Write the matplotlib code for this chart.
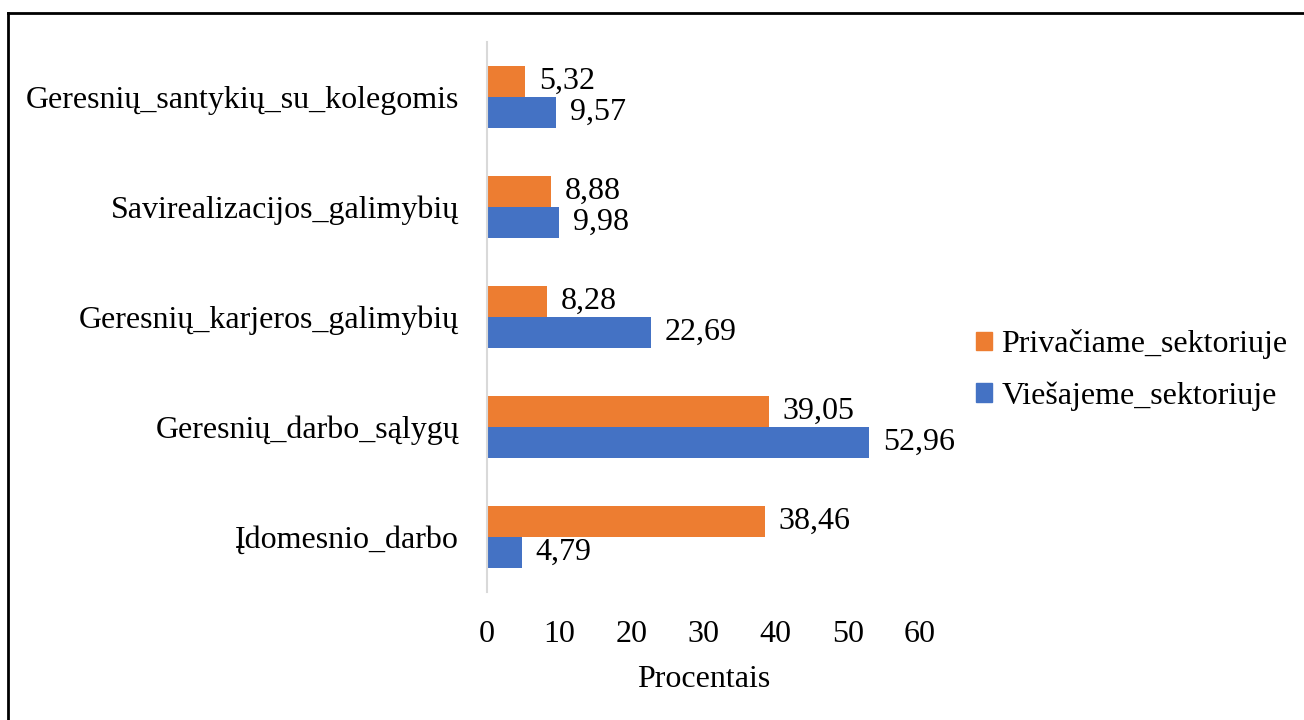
import matplotlib
matplotlib.use("Agg")
import matplotlib.pyplot as plt
import numpy as np
from matplotlib.lines import Line2D

plt.rcParams['font.family'] = ['Liberation Serif', 'DejaVu Serif']

categories = [
    "Įdomesnio_darbo",
    "Geresnių_darbo_sąlygų",
    "Geresnių_karjeros_galimybių",
    "Savirealizacijos_galimybių",
    "Geresnių_santykių_su_kolegomis",
]
private_sector = [38.46, 39.05, 8.28, 8.88, 5.32]
public_sector = [4.79, 52.96, 22.69, 9.98, 9.57]
series_names = ["Privačiame_sektoriuje", "Viešajeme_sektoriuje"]
x_ticks = [0, 10, 20, 30, 40, 50, 60]
x_label = "Procentais"

ORANGE = "#ED7D31"
BLUE = "#4472C4"
FS = 23

fig = plt.figure(figsize=(13.04, 7.2), dpi=100)
ax = fig.add_axes([487 / 1304, 1 - 592 / 720, (920 - 487) / 1304, (592 - 42) / 720])

y = np.arange(len(categories))
h = 0.28
b_priv = ax.barh(y + h / 2, private_sector, height=h, color=ORANGE, label=series_names[0])
b_pub = ax.barh(y - h / 2, public_sector, height=h, color=BLUE, label=series_names[1])

fmt = lambda vals: [f"{v:.2f}".replace(".", ",") for v in vals]
ax.bar_label(b_priv, labels=fmt(private_sector), padding=10, fontsize=FS)
ax.bar_label(b_pub, labels=fmt(public_sector), padding=10, fontsize=FS)

ax.set_xlim(0, 60)
ax.set_ylim(-0.5, len(categories) - 0.5)
ax.set_xticks(x_ticks)
ax.set_xticklabels([str(t) for t in x_ticks], fontsize=FS)
ax.set_yticks(y)
ax.set_yticklabels(categories, fontsize=FS)
ax.tick_params(axis="both", length=0)
ax.tick_params(axis="x", pad=20)
ax.tick_params(axis="y", pad=20)
ax.set_xlabel(x_label, fontsize=FS, labelpad=12)

for s in ["top", "right", "bottom"]:
    ax.spines[s].set_visible(False)
ax.spines["left"].set_color("#D9D9D9")
ax.spines["left"].set_linewidth(1.5)

handles = [plt.Rectangle((0, 0), 1, 1, color=ORANGE), plt.Rectangle((0, 0), 1, 1, color=BLUE)]
fig.legend(handles, series_names, loc="center left",
           bbox_to_anchor=(976 / 1304, 1 - 370 / 720), frameon=False, fontsize=FS,
           handlelength=0.5, handleheight=0.5, handletextpad=0.3, labelspacing=0.7,
           borderpad=0, borderaxespad=0)

# outer frame lines (top and left)
fig.add_artist(Line2D([7.5 / 1304, 1], [1 - 12.5 / 720, 1 - 12.5 / 720],
                      transform=fig.transFigure, color="black", lw=2))
fig.add_artist(Line2D([7.5 / 1304, 7.5 / 1304], [0, 1 - 12.5 / 720],
                      transform=fig.transFigure, color="black", lw=2))

fig.savefig("out.png", dpi=100, facecolor="white")
